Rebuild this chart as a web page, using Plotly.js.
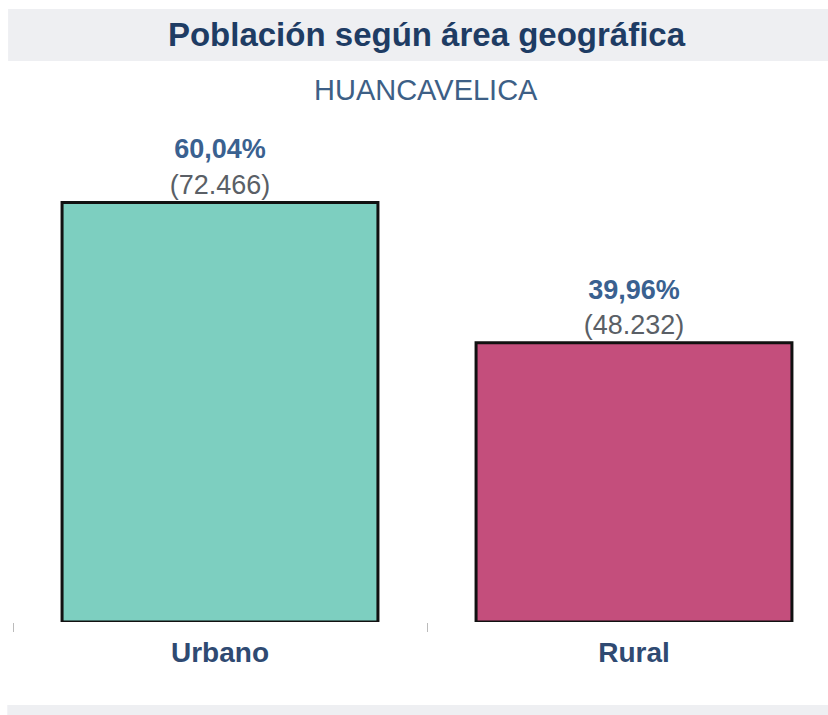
<!DOCTYPE html>
<html>
<head>
<meta charset="utf-8">
<script src="https://cdn.plot.ly/plotly-3.0.1.min.js"></script>
<style>html,body{margin:0;padding:0;background:#fff;}#chart{width:828px;height:715px;}</style>
</head>
<body>
<div id="chart"></div>
<script>
const categories = ["Urbano", "Rural"];
const counts = [72466, 48232];
const percents = ["60,04%", "39,96%"];
const countLabels = ["(72.466)", "(48.232)"];
const barColors = ["#7dcfc0", "#c44e7c"];

const FONT = "Liberation Sans, Arial, sans-serif";

const labels = categories.map((c, i) =>
  '<b><span style="color:#3a6190">' + percents[i] + '</span></b><br><span style="color:#5a5f66">' + countLabels[i] + '</span>');

const trace = {
  type: 'bar',
  x: categories,
  y: counts,
  width: 0.763,
  marker: {color: barColors, line: {color: '#111111', width: 3}},
  text: labels,
  textposition: 'outside',
  cliponaxis: false,
  textfont: {family: FONT, size: 27, color: '#3a6190'},
  hoverinfo: 'none'
};

const layout = {
  width: 828, height: 715,
  margin: {l: 13, r: 0, t: 130, b: 93},
  paper_bgcolor: '#ffffff',
  plot_bgcolor: '#ffffff',
  showlegend: false,
  bargap: 0.237,
  xaxis: {
    range: [-0.5, 1.4686],
    tickson: 'boundaries',
    ticks: 'outside', ticklen: 9, tickwidth: 1, tickcolor: '#bbbbbb',
    showgrid: false, zeroline: false, showline: false,
    tickfont: {family: FONT, size: 28, color: '#2f4a72', weight: 'bold'},
    ticklabelstandoff: 11
  },
  yaxis: {range: [0, 85000], visible: false, showgrid: false, zeroline: false},
  title: {
    text: '<b>Población según área geográfica</b>',
    font: {family: FONT, size: 33, color: '#1e3c64'},
    x: (426.5 - 13) / 815, xref: 'paper', xanchor: 'center',
    y: 1 - 34 / 715, yref: 'container', yanchor: 'middle'
  },
  annotations: [{
    text: 'HUANCAVELICA', xref: 'paper', yref: 'paper',
    x: (426.5 - 13) / 815, y: (622 - 90) / 492, xanchor: 'center', yanchor: 'middle',
    showarrow: false, font: {family: FONT, size: 29, color: '#3d5f86'}
  }],
  shapes: [
    {type: 'rect', xref: 'paper', yref: 'paper', layer: 'below',
     x0: -0.006, x1: 1, y0: (622 - 61) / 492, y1: (622 - 9) / 492,
     fillcolor: '#eeeff2', line: {width: 0}},
    {type: 'rect', xref: 'paper', yref: 'paper', layer: 'below',
     x0: -0.007, x1: 1, y0: (622 - 715) / 492, y1: (622 - 705) / 492,
     fillcolor: '#eeeff2', line: {width: 0}}
  ]
};

Plotly.newPlot('chart', [trace], layout, {displayModeBar: false, staticPlot: true});
</script>
</body>
</html>
